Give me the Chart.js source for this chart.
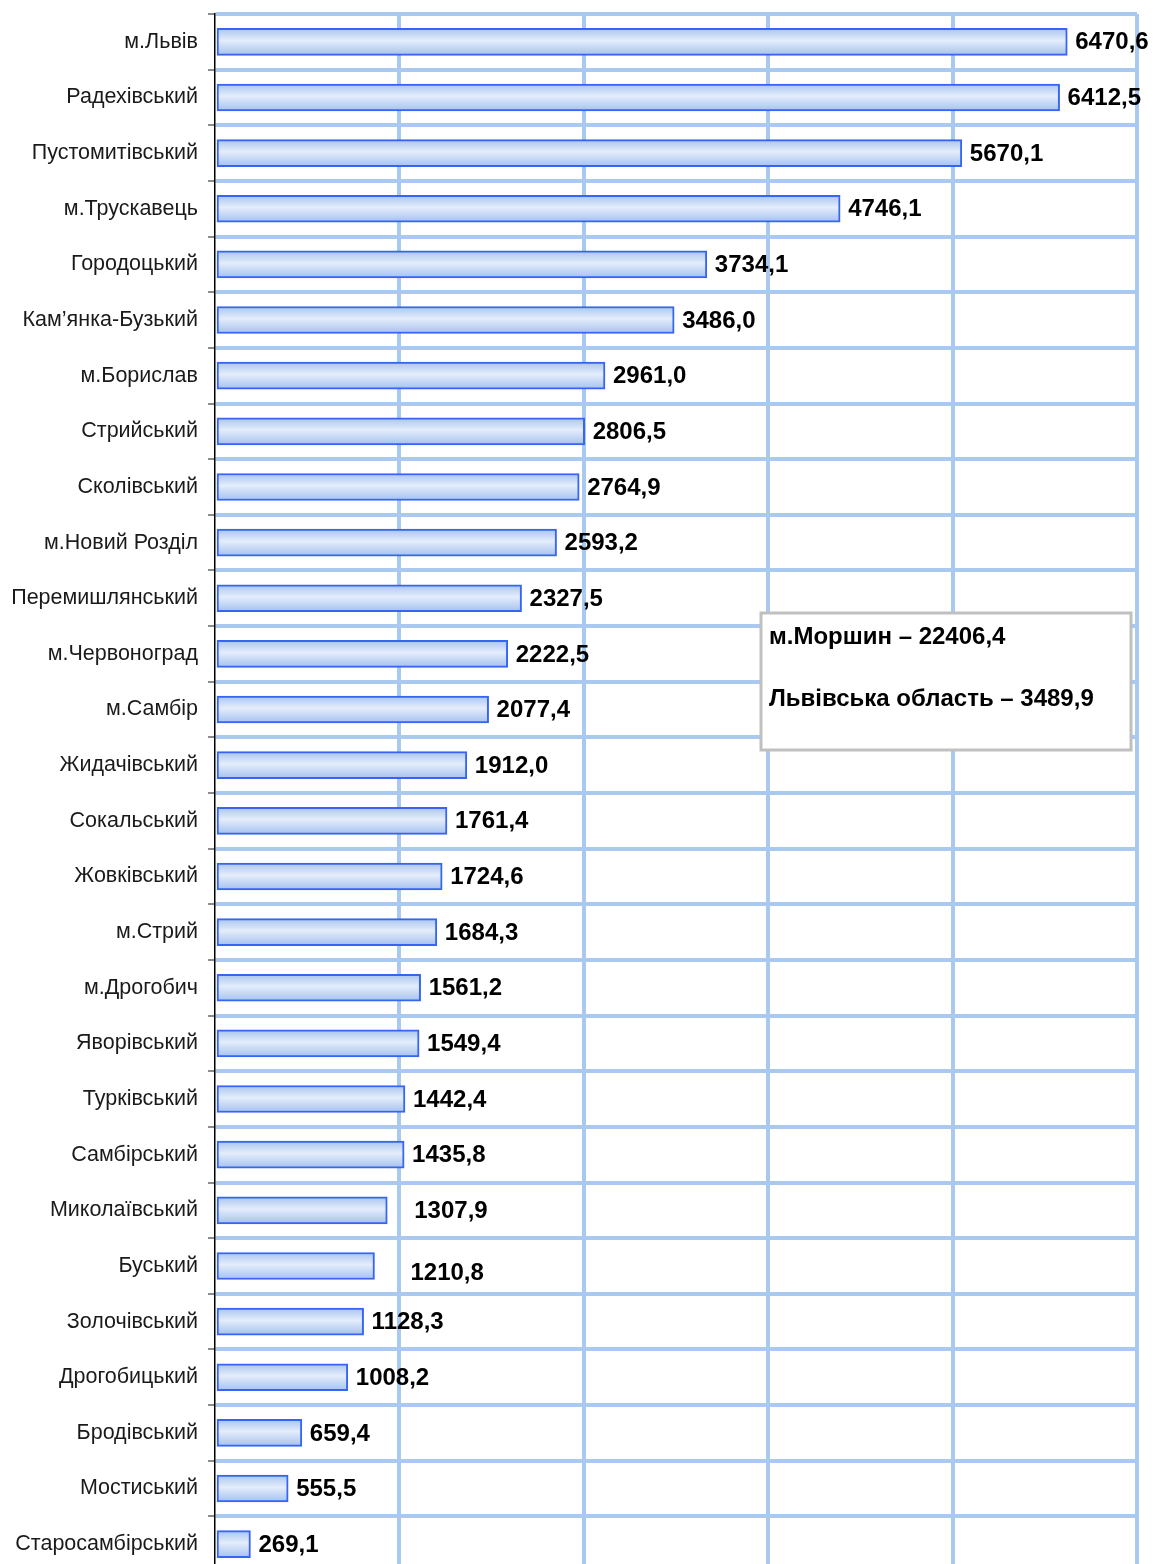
<!DOCTYPE html>
<html>
<head>
<meta charset="utf-8">
<script src="https://cdn.jsdelivr.net/npm/chart.js@4"></script>
<style>
  html, body { margin: 0; padding: 0; background: #fff; overflow: hidden; }
</style>
</head>
<body>
<canvas id="myChart" width="1153" height="1572"></canvas>
<script>
//---------------data:
const districts = [
  "м.Львів", "Радехівський", "Пустомитівський", "м.Трускавець", "Городоцький",
  "Кам’янка-Бузький", "м.Борислав", "Стрийський", "Сколівський", "м.Новий Розділ",
  "Перемишлянський", "м.Червоноград", "м.Самбір", "Жидачівський", "Сокальський",
  "Жовківський", "м.Стрий", "м.Дрогобич", "Яворівський", "Турківський",
  "Самбірський", "Миколаївський", "Буський", "Золочівський", "Дрогобицький",
  "Бродівський", "Мостиський", "Старосамбірський"
];
const values = [
  6470.6, 6412.5, 5670.1, 4746.1, 3734.1,
  3486.0, 2961.0, 2806.5, 2764.9, 2593.2,
  2327.5, 2222.5, 2077.4, 1912.0, 1761.4,
  1724.6, 1684.3, 1561.2, 1549.4, 1442.4,
  1435.8, 1307.9, 1210.8, 1128.3, 1008.2,
  659.4, 555.5, 269.1
];
const axismax = 7000;
const axisstep = 1400;
const notelines = ["м.Моршин – 22406,4", "Львівська область – 3489,9"];

const gridblue = "#a9c9f0";

function tocomma(v) {
  return v.toFixed(1).replace(".", ",");
}

//---------------bar gradient (light edges, pale middle)
function barfill(context) {
  const chart = context.chart;
  const yscale = chart.scales.y;
  if (!yscale || !chart.chartArea) return "#c8dbf5";
  const yc = yscale.getPixelForValue(context.dataIndex);
  const g = chart.ctx.createLinearGradient(0, yc - 14, 0, yc + 14);
  g.addColorStop(0, "#a6c2ef");
  g.addColorStop(0.45, "#e4edfb");
  g.addColorStop(1, "#a2bfee");
  return g;
}

//---------------value labels + note box
const valuelabels = {
  id: "valuelabels",
  afterDatasetsDraw(chart) {
    const c = chart.ctx;
    const meta = chart.getDatasetMeta(0);
    c.save();
    c.font = "bold 24px 'Liberation Sans', Arial, sans-serif";
    c.fillStyle = "#000";
    c.textBaseline = "middle";
    c.textAlign = "left";
    meta.data.forEach((bar, i) => {
      let dx = 8, dy = 1;
      if (i == 21) dx = 27;
      if (i == 22) { dx = 36; dy = 7; }
      c.fillText(tocomma(values[i]), bar.x + dx, bar.y + dy);
    });
    c.restore();
  },
  afterDraw(chart) {
    const c = chart.ctx;
    c.save();
    c.fillStyle = "#fff";
    c.fillRect(761, 613, 370, 137);
    c.strokeStyle = "#c0c0c0";
    c.lineWidth = 3;
    c.strokeRect(761, 613, 370, 137);
    c.font = "bold 24px 'Liberation Sans', Arial, sans-serif";
    c.fillStyle = "#000";
    c.textBaseline = "alphabetic";
    c.fillText(notelines[0], 769, 644);
    c.fillText(notelines[1], 769, 706);
    c.restore();
  }
};

//--------------------------------chart:
function createchart() {
  const ctx = document.getElementById("myChart");
  new Chart(ctx, {
    type: "bar",
    data: {
      labels: districts,
      datasets: [
        {
          data: values,
          backgroundColor: barfill,
          borderColor: "#3565f2",
          borderWidth: 2,
          borderSkipped: false,
          barThickness: 27,
        },
      ],
    },
    options: {
      indexAxis: "y",
      responsive: false,
      animation: false,
      devicePixelRatio: 1,
      layout: { padding: { top: 14, right: 16, left: 0, bottom: 0 } },
      plugins: {
        legend: { display: false },
        tooltip: { enabled: false },
      },
      scales: {
        x: {
          min: 0,
          max: axismax,
          ticks: { stepSize: axisstep, display: false },
          border: { display: false },
          grid: {
            drawTicks: false,
            lineWidth: 4,
            color: (c) => (c.tick && c.tick.value == 0 ? "rgba(0,0,0,0)" : gridblue),
          },
        },
        y: {
          offset: true,
          afterFit: (scale) => {
            scale.width = 215;
            scale.paddingTop = 0;
            scale.paddingBottom = 0;
          },
          border: { display: true, color: "#000", width: 1.5 },
          grid: {
            offset: true,
            lineWidth: 4,
            color: gridblue,
            tickColor: "#666",
            tickLength: 7,
            tickWidth: 1.5,
          },
          ticks: {
            padding: 10,
            color: "#1a1a1a",
            font: { family: "'Liberation Sans', Arial, sans-serif", size: 21.5 },
          },
        },
      },
    },
    plugins: [valuelabels],
  });
}

window.onload = createchart;
</script>
</body>
</html>
